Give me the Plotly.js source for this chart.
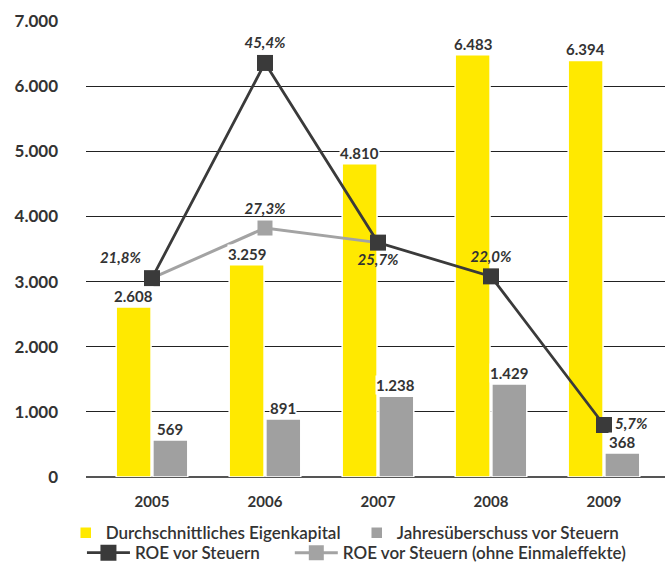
<!DOCTYPE html>
<html>
<head>
<meta charset="utf-8">
<script src="https://cdn.plot.ly/plotly-3.0.1.min.js"></script>
<style>html,body{margin:0;padding:0;background:#fff;}#chart{width:665px;height:565px;}</style>
</head>
<body>
<div id="chart"></div>
<script>
var years = ['2005', '2006', '2007', '2008', '2009'];
var eigenkapital = [2608, 3259, 4810, 6483, 6394];
var jahresueberschuss = [569, 891, 1238, 1429, 368];
var roe = [21.8, 45.4, 25.7, 22.0, 5.7];
var roeOhneYears = ['2005', '2006', '2007'];
var roeOhne = [21.8, 27.3, 25.7];
var roeLabelPos = ['top left', 'top center', 'bottom center', 'top center', 'middle right'];
var roeOhneShowLabel = [false, true, false];

var FONT = 'Lato, "DejaVu Sans", sans-serif';
var TXT = '#333333';

function pct(v) { return v.toFixed(1).replace('.', ',') + '%'; }
function thousands(v) { return String(v).replace(/\B(?=(\d{3})+(?!\d))/g, '.'); }

var traces = [
  {
    type: 'bar', name: 'Durchschnittliches Eigenkapital', x: years, y: eigenkapital,
    marker: {color: '#FFE900', line: {color: '#ffffff', width: 1.5}},
    legend: 'legend', legendrank: 1
  },
  {
    type: 'bar', name: 'Jahresüberschuss vor Steuern', x: years, y: jahresueberschuss,
    marker: {color: '#A0A0A0', line: {color: '#ffffff', width: 1.5}},
    legend: 'legend', legendrank: 2
  },
  {
    type: 'scatter', mode: 'lines+markers+text', name: 'ROE vor Steuern (ohne Einmaleffekte)',
    x: roeOhneYears, y: roeOhne, yaxis: 'y2',
    line: {color: '#A3A3A3', width: 3},
    marker: {symbol: 'square', size: 15, color: '#A3A3A3'},
    text: roeOhne.map(function (v, i) { return roeOhneShowLabel[i] ? pct(v) : ''; }),
    textposition: 'top center',
    textfont: {family: FONT, size: 15, color: TXT, weight: 'bold', style: 'italic'},
    legend: 'legend3'
  },
  {
    type: 'scatter', mode: 'lines+markers+text', name: 'ROE vor Steuern',
    x: years, y: roe, yaxis: 'y2',
    line: {color: '#3A3A3A', width: 2.8},
    marker: {symbol: 'square', size: 16, color: '#3A3A3A'},
    text: roe.map(pct), textposition: roeLabelPos,
    textfont: {family: FONT, size: 15, color: TXT, weight: 'bold', style: 'italic'},
    legend: 'legend2'
  }
];

var annotations = [];
years.forEach(function (yr, i) {
  annotations.push({
    x: i, y: eigenkapital[i], xref: 'x', yref: 'y', xshift: -18, yshift: 1,
    yanchor: 'bottom', text: thousands(eigenkapital[i]), showarrow: false,
    bgcolor: '#ffffff', borderpad: 0,
    font: {family: FONT, size: 15, color: TXT, weight: 'bold'}
  });
  annotations.push({
    x: i, y: jahresueberschuss[i], xref: 'x', yref: 'y', xshift: 18, yshift: 1,
    yanchor: 'bottom', text: thousands(jahresueberschuss[i]), showarrow: false,
    bgcolor: '#ffffff', borderpad: 0,
    font: {family: FONT, size: 15, color: TXT, weight: 'bold'}
  });
});

var legendFont = {family: FONT, size: 17, color: TXT, weight: 600};
var clear = 'rgba(0,0,0,0)';

var layout = {
  width: 665, height: 565,
  margin: {l: 86, r: 0, t: 21, b: 88, autoexpand: false},
  paper_bgcolor: '#ffffff', plot_bgcolor: '#ffffff',
  separators: ',.',
  barmode: 'group', bargap: 0.35, bargroupgap: 0.05,
  showlegend: true,
  font: {family: FONT, color: TXT},
  xaxis: {
    type: 'category', range: [-0.584, 4.54], showgrid: false, zeroline: false,
    showline: false, ticks: '', ticklabelstandoff: 14,
    tickfont: {family: FONT, size: 15, color: TXT, weight: 'bold'}
  },
  yaxis: {
    range: [0, 7000], dtick: 1000, tickformat: ',d',
    showgrid: true, gridcolor: '#222222', gridwidth: 1.2,
    zeroline: true, zerolinecolor: '#555555', zerolinewidth: 2.5,
    showline: false, ticks: '', ticklabelstandoff: 27,
    tickfont: {family: FONT, size: 17, color: TXT, weight: 'bold'}
  },
  yaxis2: {
    overlaying: 'y', side: 'right', range: [0, 50], visible: false, showgrid: false, zeroline: false
  },
  legend: {
    orientation: 'h', x: -0.035, xanchor: 'left', y: -0.123, yanchor: 'middle',
    font: legendFont, itemwidth: 30, entrywidth: 246, traceorder: 'normal', bgcolor: clear
  },
  legend2: {
    orientation: 'h', x: -0.007, xanchor: 'left', y: -0.167, yanchor: 'middle',
    font: legendFont, itemwidth: 43, bgcolor: clear
  },
  legend3: {
    orientation: 'h', x: 0.352, xanchor: 'left', y: -0.167, yanchor: 'middle',
    font: legendFont, itemwidth: 43, bgcolor: clear
  },
  annotations: annotations
};

Plotly.newPlot('chart', traces, layout, {displayModeBar: false, staticPlot: true});
</script>
</body>
</html>
